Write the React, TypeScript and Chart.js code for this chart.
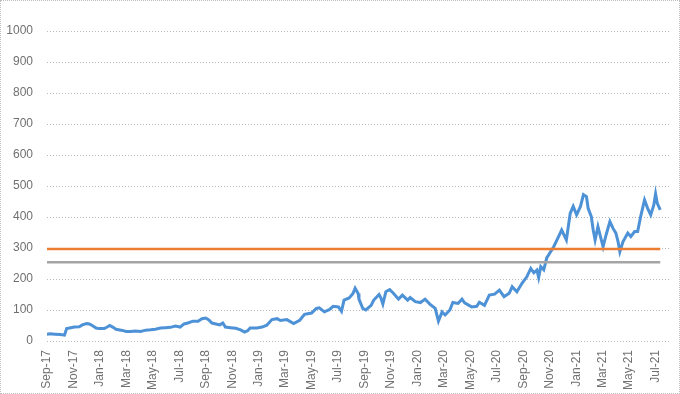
import React, { useEffect, useRef } from "react";
import { Chart, registerables } from "chart.js";

Chart.register(...registerables);

const dates: string[] = [
  "2017-09-01","2017-09-08","2017-09-19","2017-10-01","2017-10-11","2017-10-16","2017-10-23","2017-11-03","2017-11-14","2017-11-21",
  "2017-12-01","2017-12-07","2017-12-14","2017-12-23","2017-12-30","2018-01-11","2018-01-18","2018-01-24","2018-02-01","2018-02-07",
  "2018-02-18","2018-03-01","2018-03-11","2018-03-22","2018-04-03","2018-04-15","2018-04-26","2018-05-07","2018-05-19","2018-05-30",
  "2018-06-11","2018-06-22","2018-07-03","2018-07-12","2018-07-21","2018-08-02","2018-08-14","2018-08-23","2018-09-01","2018-09-08",
  "2018-09-15","2018-09-24","2018-10-03","2018-10-10","2018-10-16","2018-10-28","2018-11-09","2018-11-20","2018-11-29","2018-12-06",
  "2018-12-12","2018-12-28","2019-01-09","2019-01-20","2019-02-01","2019-02-12","2019-02-19","2019-03-05","2019-03-21","2019-04-04",
  "2019-04-15","2019-05-01","2019-05-12","2019-05-19","2019-05-31","2019-06-11","2019-06-20","2019-07-02","2019-07-09","2019-07-15",
  "2019-07-27","2019-08-05","2019-08-10","2019-08-17","2019-08-19","2019-08-28","2019-09-04","2019-09-16","2019-09-22","2019-10-04",
  "2019-10-08","2019-10-13","2019-10-20","2019-10-29","2019-11-07","2019-11-18","2019-11-27","2019-12-09","2019-12-15","2019-12-27",
  "2020-01-08","2020-01-19","2020-01-30","2020-02-11","2020-02-18","2020-02-26","2020-03-04","2020-03-15","2020-03-22","2020-04-03",
  "2020-04-12","2020-04-18","2020-05-04","2020-05-16","2020-05-22","2020-06-03","2020-06-14","2020-06-26","2020-07-07","2020-07-18",
  "2020-07-30","2020-08-06","2020-08-17","2020-08-29","2020-09-09","2020-09-18","2020-09-25","2020-10-02","2020-10-06","2020-10-11",
  "2020-10-18","2020-10-25","2020-11-10","2020-11-21","2020-11-28","2020-12-09","2020-12-18","2020-12-25","2021-01-02","2021-01-11",
  "2021-01-18","2021-01-25","2021-01-29","2021-02-05","2021-02-09","2021-02-13","2021-02-19","2021-03-02","2021-03-09","2021-03-18",
  "2021-03-25","2021-04-01","2021-04-06","2021-04-10","2021-04-17","2021-04-28","2021-05-05","2021-05-14","2021-05-21","2021-05-28",
  "2021-06-06","2021-06-13","2021-06-20","2021-06-27","2021-07-01","2021-07-05","2021-07-12",
];

const prices: number[] = [
  22,23,22,21,19,40,42,45,46,52,
  56,55,50,42,40,40,45,50,44,38,
  35,31,31,32,31,35,36,38,42,43,
  44,48,45,55,58,64,64,72,74,68,
  58,55,52,58,45,43,41,36,29,33,
  42,42,45,51,69,72,66,69,56,67,
  86,90,105,107,94,101,112,110,96,132,
  139,153,170,153,135,105,100,115,132,150,
  140,119,159,166,153,135,148,132,140,127,
  124,135,119,105,64,94,84,100,124,121,
  135,123,110,112,125,115,148,151,164,143,
  154,175,159,186,207,234,220,229,205,240,
  230,268,304,337,358,326,412,434,407,434,
  472,466,428,401,358,326,369,304,342,385,
  364,348,320,288,320,348,337,353,353,401,
  455,428,407,439,475,444,423,
];

const levelDates: string[] = ["2017-09-01", "2021-07-12"];
const upperLevel = 297;
const lowerLevel = 254;

const yTicks: number[] = [0, 100, 200, 300, 400, 500, 600, 700, 800, 900, 1000];
const tickLabels: string[] = [
  "Sep-17","Nov-17","Jan-18","Mar-18","May-18","Jul-18","Sep-18","Nov-18",
  "Jan-19","Mar-19","May-19","Jul-19","Sep-19","Nov-19","Jan-20","Mar-20",
  "May-20","Jul-20","Sep-20","Nov-20","Jan-21","Mar-21","May-21","Jul-21",
];
const axisEndDate = "2021-08-03";

function monthIndex(d: string): number {
  const [y, m, day] = d.split("-").map(Number);
  const dim = new Date(y, m, 0).getDate();
  return (y - 2017) * 12 + (m - 9) + (day - 1) / dim;
}

const dottedGrid = {
  id: "dottedGrid",
  beforeDatasetsDraw(chart: any) {
    const { ctx, chartArea, scales } = chart;
    const y = scales.y;
    ctx.save();
    ctx.strokeStyle = "#b8b8b8";
    ctx.lineWidth = 1;
    ctx.setLineDash([1, 2]);
    for (const v of yTicks) {
      const py = Math.round(y.getPixelForValue(v)) + 0.5;
      ctx.beginPath();
      ctx.moveTo(chartArea.left, py);
      ctx.lineTo(chartArea.right, py);
      ctx.stroke();
    }
    ctx.restore();
  },
};

export default function App() {
  const ref = useRef<HTMLCanvasElement | null>(null);

  useEffect(() => {
    if (!ref.current) return;
    const tickValues = tickLabels.map((_, i) => i * 2);
    const font = { family: "'Liberation Sans', Arial, sans-serif", size: 12 };
    const chart = new Chart(ref.current, {
      type: "line",
      data: {
        datasets: [
          {
            data: levelDates.map((d) => ({ x: monthIndex(d), y: upperLevel })),
            borderColor: "#ed7d31",
            borderWidth: 2.5,
            pointRadius: 0,
            order: 1,
          },
          {
            data: levelDates.map((d) => ({ x: monthIndex(d), y: lowerLevel })),
            borderColor: "#a5a5a5",
            borderWidth: 2.5,
            pointRadius: 0,
            order: 2,
          },
          {
            data: dates.map((d, i) => ({ x: monthIndex(d), y: prices[i] })),
            borderColor: "#4d91d6",
            borderWidth: 3,
            pointRadius: 0,
            tension: 0,
            order: 3,
          },
        ],
      },
      options: {
        animation: false,
        responsive: false,
        maintainAspectRatio: false,
        layout: { padding: { top: 30, right: 1, left: 0, bottom: 0 } },
        plugins: { legend: { display: false }, tooltip: { enabled: false } },
        scales: {
          x: {
            type: "linear",
            min: 0,
            max: monthIndex(axisEndDate),
            afterBuildTicks: (scale: any) => {
              scale.ticks = tickValues.map((v) => ({ value: v }));
            },
            afterFit: (scale: any) => {
              scale.height = 52;
            },
            grid: { display: false, drawTicks: false },
            border: { display: false },
            ticks: {
              autoSkip: false,
              minRotation: 90,
              maxRotation: 90,
              padding: 9,
              color: "#707070",
              font,
              callback: (v: any) => {
                const idx = Math.round(Number(v) / 2);
                return tickLabels[idx] ?? "";
              },
            },
          },
          y: {
            min: 0,
            max: 1000,
            afterBuildTicks: (scale: any) => {
              scale.ticks = yTicks.map((v) => ({ value: v }));
            },
            afterFit: (scale: any) => {
              scale.width = 46;
            },
            grid: { display: false, drawTicks: false },
            border: { display: false },
            ticks: {
              padding: 14,
              color: "#707070",
              font,
              callback: (v: any) => String(v),
            },
          },
        },
      },
      plugins: [dottedGrid],
    } as any);
    return () => chart.destroy();
  }, []);

  return (
    <div
      style={{
        position: "fixed",
        left: 0,
        top: 0,
        width: 680,
        height: 394,
        boxSizing: "border-box",
        border: "1px dotted #bdbdbd",
        background: "#fff",
      }}
    >
      <canvas ref={ref} width={678} height={392} style={{ display: "block", width: 678, height: 392 }} />
    </div>
  );
}
